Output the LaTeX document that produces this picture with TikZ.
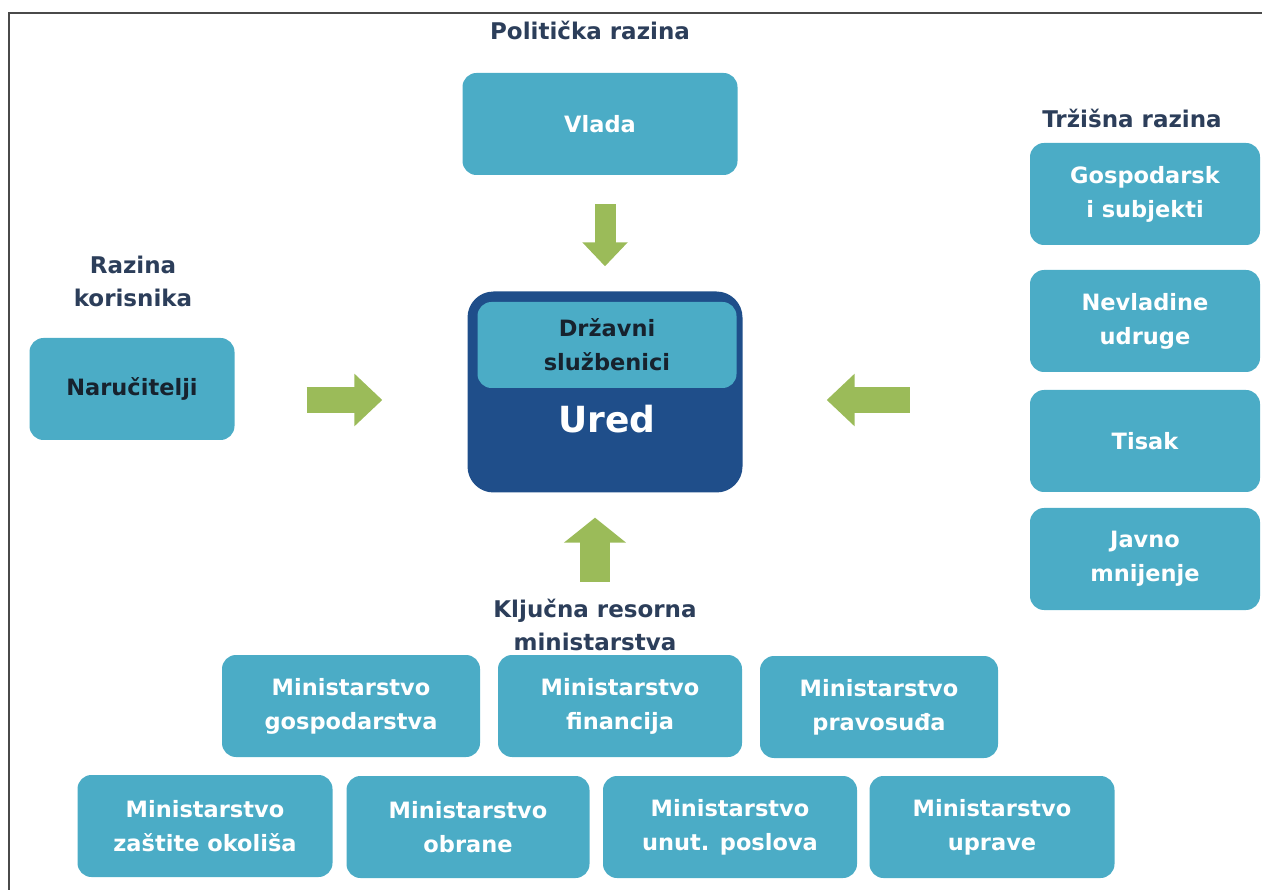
\documentclass[tikz,border=0pt]{standalone}
\usepackage{fontspec}
\setmainfont{DejaVu Sans}
\usetikzlibrary{arrows.meta}

\definecolor{boxblue}{HTML}{4BACC6}
\definecolor{uredblue}{HTML}{1F4E8A}
\definecolor{arrgreen}{HTML}{9BBB59}
\definecolor{headtxt}{HTML}{2C3E5A}
\definecolor{darktxt}{HTML}{17222E}
\definecolor{framegray}{HTML}{4A4A4A}

\begin{document}
\begin{tikzpicture}[x=1pt, y=-1pt,
  box/.style={fill=boxblue, rounded corners=14pt, text=white, align=center,
    font=\bfseries\fontsize{22.5}{34}\selectfont, minimum height=102pt, inner sep=0pt},
  darkbox/.style={box, text=darktxt},
  level/.style={text=headtxt, align=center, font=\bfseries\fontsize{23}{33}\selectfont},
  flow/.style={draw=arrgreen, line width=26pt, -{Triangle[width=51pt,length=28pt]}}]
  \useasboundingbox (0,0) rectangle (1262,890);
  \draw [framegray, line width=2.5pt] (9,890) -- (9,13) -- (1262,13);

  \node [level] (polit) at (590,30) {Politička razina};
  \node [box, minimum width=275pt] (vlada) at (600,124) {Vlada};

  \node [fill=uredblue, rounded corners=26pt, minimum width=275pt, minimum height=201pt] (ured) at (605,392) {};
  \node [darkbox, minimum width=259pt, minimum height=86pt] (sluz) at (607,345) {Državni\\službenici};
  \node [text=white, font=\bfseries\fontsize{36}{40}\selectfont] (uredtxt) at (607,419) {Ured};

  \node [level] (korisnik) at (133,281) {Razina\\korisnika};
  \node [darkbox, minimum width=205pt] (narucitelji) at (132,389) {Naručitelji};

  \node [level] (trzisna) at (1132,118) {Tržišna razina};
  \node [box, minimum width=230pt] (gosp) at (1145,194) {Gospodarsk\\i subjekti};
  \node [box, minimum width=230pt] (nevl) at (1145,321) {Nevladine\\udruge};
  \node [box, minimum width=230pt] (tisak) at (1145,441) {Tisak};
  \node [box, minimum width=230pt] (javno) at (1145,559) {Javno\\mnijenje};

  \node [level] (kljucna) at (595,625) {Ključna resorna\\ministarstva};
  \node [box, minimum width=258pt] (mgosp) at (351,706) {Ministarstvo\\gospodarstva};
  \node [box, minimum width=244pt] (mfin) at (620,706) {Ministarstvo\\financija};
  \node [box, minimum width=238pt] (mprav) at (879,707) {Ministarstvo\\pravosuđa};
  \node [box, minimum width=255pt] (mokol) at (205,826) {Ministarstvo\\zaštite okoliša};
  \node [box, minimum width=243pt] (mobr) at (468,827) {Ministarstvo\\obrane};
  \node [box, minimum width=254pt] (munut) at (730,827) {Ministarstvo\\unut. poslova};
  \node [box, minimum width=245pt] (mupr) at (992,827) {Ministarstvo\\uprave};

  \coordinate (inL) at ([yshift=-8pt]ured.west);
  \coordinate (inR) at ([yshift=-8pt]ured.east);
  \draw [flow, line width=21pt, -{Triangle[width=44pt,length=24pt]}, shorten <=29pt, shorten >=25pt]
    (vlada.south -| ured.north) -- (ured.north);
  \draw [flow, line width=30pt, -{Triangle[width=61pt,length=25pt]}, shorten <=14pt, shorten >=25pt]
    (kljucna.north) -- (kljucna.north |- ured.south);
  \draw [flow, shorten <=72pt, shorten >=85pt] (inL -| narucitelji.east) -- (inL);
  \draw [flow, shorten <=120pt, shorten >=84pt] (inR -| tisak.west) -- (inR);
\end{tikzpicture}
\end{document}
